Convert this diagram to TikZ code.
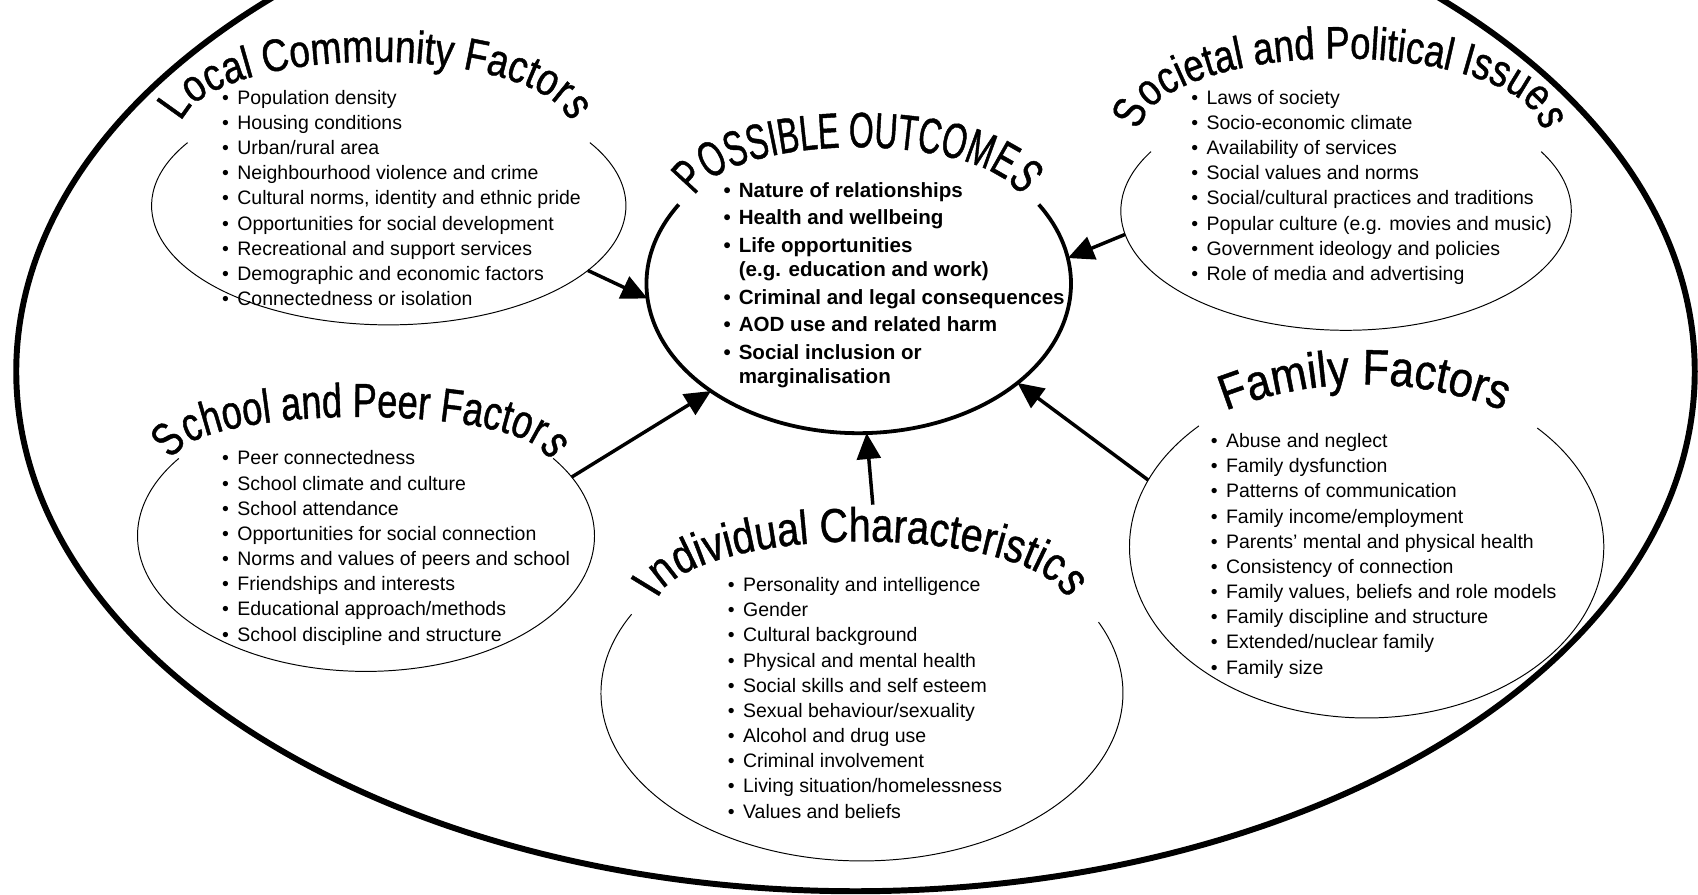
\documentclass[tikz,border=0pt]{standalone}
\usepackage{fontspec}
\setmainfont{Liberation Sans}
% heading faces, squeezed to fit their arcs
\newfontfamily\outcomehead[FakeStretch=0.64,FakeBold=0.9]{Liberation Sans}
\newfontfamily\localhead[FakeStretch=0.82,FakeBold=0.9]{Liberation Sans}
\newfontfamily\societyhead[FakeStretch=0.8,FakeBold=0.9]{Liberation Sans}
\newfontfamily\schoolhead[FakeStretch=0.76,FakeBold=0.9]{Liberation Sans}
\newfontfamily\personhead[FakeStretch=0.83,FakeBold=0.9]{Liberation Sans}
\newfontfamily\familyhead[FakeStretch=0.87,FakeBold=0.9]{Liberation Sans}
\usetikzlibrary{arrows.meta,decorations.text,shapes.geometric}

\newcommand{\bul}{\makebox[14pt][l]{\textbullet}}
\newcommand{\hd}[1]{\fontsize{#1}{#1}\selectfont}

\begin{document}
\begin{tikzpicture}[x=1pt, y=1pt,
    region/.style={ellipse, inner sep=0pt, outer sep=0pt},
    rim/.style={line width=0.9pt},
    items/.style={anchor=north west, align=left, inner sep=0pt, font=\fontsize{18}{23.25}\selectfont},
    push/.style={line width=3.2pt, -{Triangle[length=24pt, width=22pt]}},
    arched/.style={decorate, decoration={text along path, text align=center, text={#1}}}]

\useasboundingbox (0,0) rectangle (1568,-826);
\clip (0,0) rectangle (1568,-826);

% outer boundary
\draw[line width=5.5pt] (790,-343) ellipse[x radius=775, y radius=480];

% regions, named for the arrows
\node[region, minimum width=392pt, minimum height=276pt] (po) at (793,-262) {};
\node[region, minimum width=438pt, minimum height=220pt] (lcf) at (359,-190) {};
\node[region, minimum width=416pt, minimum height=220pt] (spi) at (1243,-195) {};
\node[region, minimum width=422pt, minimum height=250pt] (spf) at (338,-495) {};
\node[region, minimum width=482pt, minimum height=310pt] (ic) at (796,-640) {};
\node[region, minimum width=438pt, minimum height=316pt] (ff) at (1262,-505) {};
\coordinate (ictop) at (806,-466);

% open rims under the headings
\draw[line width=3.5pt] (793,-262) ++(148:196 and 138) arc[start angle=148, end angle=392, x radius=196, y radius=138];
\draw[rim] (359,-190) ++(148:219 and 110) arc[start angle=148, end angle=392, x radius=219, y radius=110];
\draw[rim] (1243,-195) ++(150:208 and 110) arc[start angle=150, end angle=390, x radius=208, y radius=110];
\draw[rim] (338,-495) ++(145:211 and 125) arc[start angle=145, end angle=395, x radius=211, y radius=125];
\draw[rim] (796,-640) ++(152:241 and 155) arc[start angle=152, end angle=385, x radius=241, y radius=155];
\draw[rim] (1262,-505) ++(135:219 and 158) arc[start angle=135, end angle=404, x radius=219, y radius=158];

% headings
\path[arched={|\outcomehead\hd{46}|POSSIBLE OUTCOMES}] (792,-190) ++(200:152 and 54) arc[start angle=200, end angle=-20, x radius=152, y radius=54];
\path[arched={|\localhead\hd{42}|Local Community Factors}] (347,-119) ++(200:180 and 62) arc[start angle=200, end angle=-20, x radius=180, y radius=62];
\path[arched={|\societyhead\hd{42}|Societal and Political Issues}] (1238,-122) ++(200:185 and 68) arc[start angle=200, end angle=-20, x radius=185, y radius=68];
\path[arched={|\schoolhead\hd{44}|School and Peer Factors}] (333,-425) ++(205:172 and 40) arc[start angle=205, end angle=-25, x radius=172, y radius=40];
\path[arched={|\personhead\hd{44}|Individual Characteristics}] (796,-560) ++(200:190 and 60) arc[start angle=200, end angle=-20, x radius=190, y radius=60];
\path[arched={|\familyhead\hd{46}|Family Factors}] (1260,-705) ++(120:350) arc[start angle=120, end angle=60, radius=350];

% lists
\node[items, font=\bfseries\fontsize{19}{22.5}\selectfont] (polist) at (668,-168) {%
\bul Nature of relationships\\[3pt]
\bul Health and wellbeing\\[3pt]
\bul Life opportunities\\
\hspace*{14pt}(e.g. education and work)\\[3pt]
\bul Criminal and legal consequences\\[3pt]
\bul AOD use and related harm\\[3pt]
\bul Social inclusion or\\
\hspace*{14pt}marginalisation};

\node[items] (lcflist) at (205,-83) {%
\bul Population density\\
\bul Housing conditions\\
\bul Urban/rural area\\
\bul Neighbourhood violence and crime\\
\bul Cultural norms, identity and ethnic pride\\
\bul Opportunities for social development\\
\bul Recreational and support services\\
\bul Demographic and economic factors\\
\bul Connectedness or isolation};

\node[items] (spilist) at (1100,-83) {%
\bul Laws of society\\
\bul Socio-economic climate\\
\bul Availability of services\\
\bul Social values and norms\\
\bul Social/cultural practices and traditions\\
\bul Popular culture (e.g. movies and music)\\
\bul Government ideology and policies\\
\bul Role of media and advertising};

\node[items] (spflist) at (205,-416) {%
\bul Peer connectedness\\
\bul School climate and culture\\
\bul School attendance\\
\bul Opportunities for social connection\\
\bul Norms and values of peers and school\\
\bul Friendships and interests\\
\bul Educational approach/methods\\
\bul School discipline and structure};

\node[items] (iclist) at (672,-533) {%
\bul Personality and intelligence\\
\bul Gender\\
\bul Cultural background\\
\bul Physical and mental health\\
\bul Social skills and self esteem\\
\bul Sexual behaviour/sexuality\\
\bul Alcohol and drug use\\
\bul Criminal involvement\\
\bul Living situation/homelessness\\
\bul Values and beliefs};

\node[items] (fflist) at (1118,-400) {%
\bul Abuse and neglect\\
\bul Family dysfunction\\
\bul Patterns of communication\\
\bul Family income/employment\\
\bul Parents' mental and physical health\\
\bul Consistency of connection\\
\bul Family values, beliefs and role models\\
\bul Family discipline and structure\\
\bul Extended/nuclear family\\
\bul Family size};

% influences on the outcomes
\draw[push] (lcf.-18) -- (po.184);
\draw[push] (spi.186) -- (po.7);
\draw[push] (spf.16) -- (po.216);
\draw[push] (ictop) -- (po.273);
\draw[push] (ff.163) -- (po.328);

\end{tikzpicture}
\end{document}
